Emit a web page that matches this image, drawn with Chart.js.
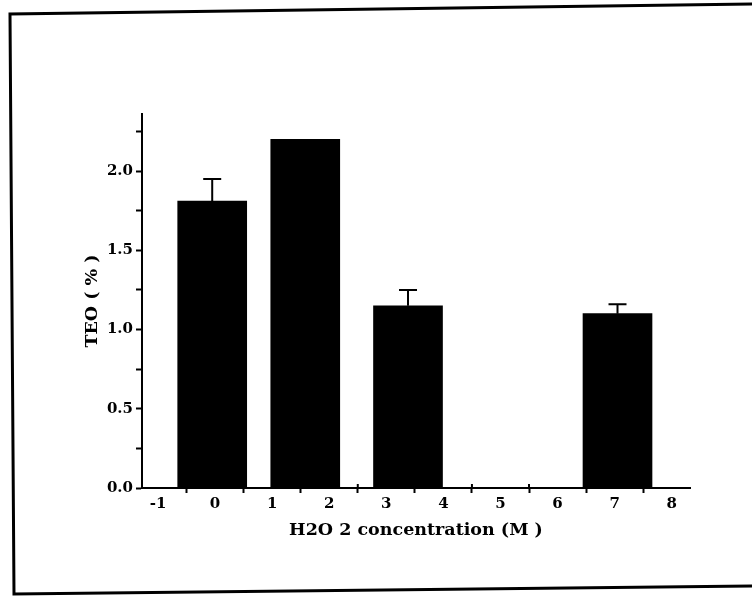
<!DOCTYPE html>
<html>
<head>
<meta charset="utf-8">
<script src="https://cdn.jsdelivr.net/npm/chart.js@4.4.1/dist/chart.umd.min.js"></script>
<style>
  html, body { margin: 0; padding: 0; background: #fff; }
  canvas { display: block; }
</style>
</head>
<body>
<canvas id="teoChart" width="752" height="596"></canvas>
<script>
// bar centres on the concentration axis, TEO values and their upper errors
const positions = [-0.05, 1.58, 3.38, 7.05];
const teo = [1.81, 2.20, 1.15, 1.10];
const teoErr = [0.14, 0, 0.10, 0.06];

// axis ticks
const xTickLabels = [-1, 0, 1, 2, 3, 4, 5, 6, 7, 8];
const yTickValues = [0, 0.25, 0.5, 0.75, 1.0, 1.25, 1.5, 1.75, 2.0, 2.25];

const serif = 'DejaVu Serif';

// slightly skewed frame round the figure
const framePlugin = {
  id: 'frame',
  beforeDraw(chart) {
    const c = chart.ctx;
    c.save();
    c.fillStyle = '#fff';
    c.fillRect(0, 0, chart.width, chart.height);
    c.strokeStyle = '#000';
    c.lineWidth = 3;
    c.beginPath();
    c.moveTo(752, 4);
    c.lineTo(10, 14);
    c.lineTo(14, 594);
    c.lineTo(752, 586);
    c.stroke();
    c.restore();
  }
};

// upper error bars with a cap, plus the small inner half of the x ticks
const errorBars = {
  id: 'errorBars',
  afterDatasetsDraw(chart) {
    const c = chart.ctx;
    const x = chart.scales.x;
    const y = chart.scales.y;
    const meta = chart.getDatasetMeta(0);
    c.save();
    c.strokeStyle = '#000';
    c.lineWidth = 2;
    meta.data.forEach((bar, i) => {
      if (!teoErr[i]) return;
      const top = y.getPixelForValue(teo[i] + teoErr[i]);
      c.beginPath();
      c.moveTo(bar.x, bar.y);
      c.lineTo(bar.x, top);
      c.moveTo(bar.x - 9, top);
      c.lineTo(bar.x + 9, top);
      c.stroke();
    });
    x.ticks.forEach(t => {
      if (isWhole(t.value)) return;
      const px = x.getPixelForValue(t.value);
      c.beginPath();
      c.moveTo(px, y.bottom);
      c.lineTo(px, y.bottom - 4);
      c.stroke();
    });
    c.restore();
  }
};

const isWhole = v => Math.abs(v - Math.round(v)) < 1e-6;

const ctx = document.getElementById('teoChart').getContext('2d');
new Chart(ctx, {
  type: 'bar',
  data: {
    datasets: [{
      data: positions.map((x, i) => ({ x: x, y: teo[i] })),
      backgroundColor: '#000',
      borderWidth: 0,
      barThickness: 69
    }]
  },
  options: {
    responsive: false,
    animation: false,
    devicePixelRatio: 1,
    layout: { padding: { left: 0, top: 114, right: 62, bottom: 0 } },
    plugins: { legend: { display: false }, tooltip: { enabled: false } },
    scales: {
      x: {
        type: 'linear',
        offset: false,
        min: -1.28,
        max: 8.32,
        afterFit: s => { s.height = 108; },
        afterBuildTicks: s => {
          const half = xTickLabels.slice(0, -1).map(v => v + 0.5);
          s.ticks = xTickLabels.concat(half).sort((a, b) => a - b).map(v => ({ value: v }));
        },
        border: { display: true, color: '#000', width: 2 },
        grid: {
          drawOnChartArea: false,
          offset: false,
          tickLength: 5,
          tickWidth: 2,
          tickColor: c => (c.tick && isWhole(c.tick.value)) ? 'rgba(0,0,0,0)' : '#000'
        },
        ticks: {
          color: '#000',
          padding: 2,
          maxRotation: 0,
          autoSkip: false,
          font: { family: serif, size: 15, weight: 'bold' },
          callback: v => isWhole(v) ? String(v) : ''
        },
        title: {
          display: true,
          text: 'H2O 2 concentration (M )',
          color: '#000',
          font: { family: serif, size: 17.5, weight: 'bold' },
          padding: { top: 4, bottom: 55 }
        }
      },
      y: {
        min: 0,
        max: 2.36,
        afterFit: s => { s.width = 142; },
        afterBuildTicks: s => {
          s.ticks = yTickValues.map(v => ({ value: v }));
        },
        border: { display: true, color: '#000', width: 2 },
        grid: {
          drawOnChartArea: false,
          tickLength: 6,
          tickWidth: 2,
          tickColor: '#000'
        },
        ticks: {
          color: '#000',
          padding: 3,
          autoSkip: false,
          font: { family: serif, size: 15, weight: 'bold' },
          callback: v => isWhole(v * 2) ? v.toFixed(1) : ''
        },
        title: {
          display: true,
          text: 'TEO ( % )',
          color: '#000',
          font: { family: serif, size: 17.5, weight: 'bold' },
          padding: { top: 82, bottom: 0 }
        }
      }
    }
  },
  plugins: [framePlugin, errorBars]
});
</script>
</body>
</html>
